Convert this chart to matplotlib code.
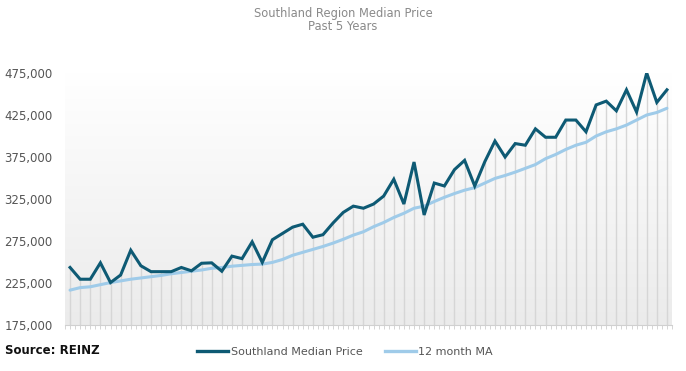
import numpy as np
import matplotlib
matplotlib.use("Agg")
import matplotlib.pyplot as plt
from matplotlib.lines import Line2D
from matplotlib.colors import LinearSegmentedColormap

months = list(range(60))
median_price = [243500, 229500, 229500, 249000, 225500, 234500, 264000, 245500, 238500, 238500,
                238500, 243500, 239500, 248500, 249000, 239000, 257000, 254000, 274000, 249500,
                276500, 284000, 291500, 295000, 279500, 282500, 296500, 309000, 316500, 314000,
                319000, 328500, 348500, 319000, 369000, 306000, 344000, 340500, 360000, 371000,
                340500, 369500, 394000, 375000, 391000, 389000, 408500, 398500, 398500, 419000,
                419000, 405000, 437000, 441500, 430000, 455000, 428500, 475000, 440000, 455000]
ma_12 = [216500, 219500, 220500, 223000, 225500, 227500, 229500, 231000, 232500, 234000,
         236000, 237500, 239000, 240500, 242500, 243500, 245000, 246000, 247000, 247500,
         249500, 253000, 258000, 261500, 265000, 268500, 272500, 277000, 282000, 286000,
         292000, 297000, 303000, 308000, 314000, 316500, 322000, 327000, 331500, 335500,
         338500, 344000, 349500, 353000, 357000, 361500, 366000, 373000, 378000, 384000,
         389000, 392500, 400000, 405000, 408500, 413000, 419000, 425000, 428000, 433000]
y_ticks = [175000, 225000, 275000, 325000, 375000, 425000, 475000]

W, H = 686, 371
fig = plt.figure(figsize=(W / 100, H / 100), dpi=100)
ax = fig.add_axes([65 / W, 1 - 325 / H, (672 - 65) / W, (325 - 73) / H])

# gradient background
grad = np.linspace(0, 1, 256).reshape(-1, 1)
cmap = LinearSegmentedColormap.from_list("bg", ["#ebebeb", "#ffffff"])
ax.imshow(grad, aspect="auto", cmap=cmap, origin="lower",
          extent=[0, 1, 0, 1.0], transform=ax.transAxes, zorder=0)

ymin = 175000
tops = np.maximum(median_price, ma_12)
ax.vlines(months, ymin, tops, color="#d6d6d6", lw=1.0, zorder=1)

ax.plot(months, ma_12, color="#9fcbe9", lw=2.2, zorder=2, solid_capstyle="round")
ax.plot(months, median_price, color="#0e5a74", lw=2.2, zorder=3, solid_joinstyle="miter")

ax.set_xlim(-0.5, 59.5)
ax.set_ylim(175000, 475000)
ax.set_yticks(y_ticks)
ax.set_yticklabels([f"{v:,}" for v in y_ticks])
ax.tick_params(axis="y", length=0, pad=9, labelsize=8.5, labelcolor="#555555")
ax.set_xticks(np.arange(-0.5, 60, 0.5))
ax.tick_params(axis="x", length=3, width=0.6, color="#cfcfcf", labelbottom=False)
for s in ["top", "right", "left"]:
    ax.spines[s].set_visible(False)
ax.spines["bottom"].set_color("#d0d0d0")
ax.spines["bottom"].set_linewidth(0.8)

fig.text(0.5, 1 - 13 / H, "Southland Region Median Price", ha="center", va="center",
         fontsize=8.3, color="#8a8a8a")
fig.text(0.5, 1 - 27 / H, "Past 5 Years", ha="center", va="center",
         fontsize=8.3, color="#8a8a8a")
fig.text(5 / W, 1 - 350 / H, "Source: REINZ", ha="left", va="center",
         fontsize=8.5, fontweight="bold", color="#111111")

handles = [Line2D([], [], color="#0e5a74", lw=2.4),
           Line2D([], [], color="#9fcbe9", lw=2.4)]
fig.legend(handles, ["Southland Median Price", "12 month MA"], loc="center",
           bbox_to_anchor=(345 / W, 1 - 352 / H), ncol=2, frameon=False,
           fontsize=8, labelcolor="#555555", handlelength=2.8, handletextpad=0.2,
           columnspacing=2.0)

fig.savefig("out.png", dpi=100)
